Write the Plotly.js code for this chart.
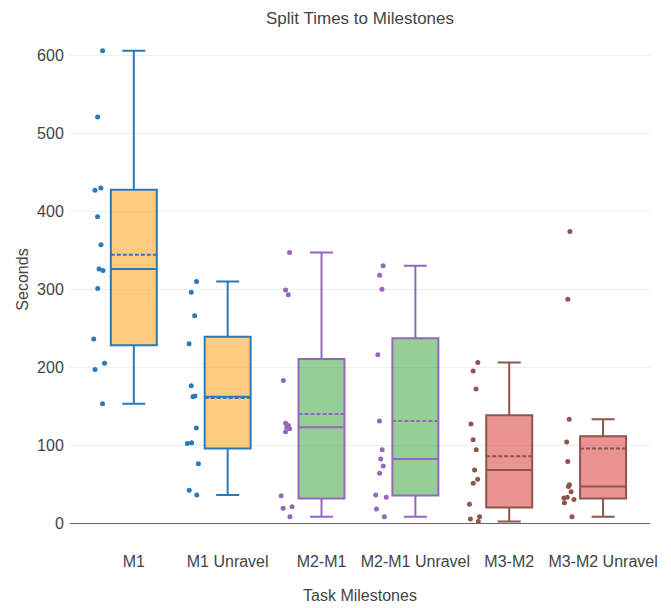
<!DOCTYPE html>
<html>
<head>
<meta charset="utf-8">
<script src="https://cdn.plot.ly/plotly-3.0.1.min.js"></script>
<style>html,body{margin:0;padding:0;background:#fff;}#chart{width:671px;height:608px;}</style>
</head>
<body>
<div id="chart"></div>
<script>
// Categories (task milestones)
const categories = ["M1", "M1 Unravel", "M2-M1", "M2-M1 Unravel", "M3-M2", "M3-M2 Unravel"];

// Split times in seconds
const m1        = [606, 521, 430, 427, 393, 357, 326, 324, 301, 236, 205, 197, 153];
const m1Unravel = [310, 296, 266, 230, 176, 163, 162, 122, 103, 102, 76, 42, 36];
const m2m1      = [347, 299, 293, 183, 128, 125, 123, 121, 117, 35, 21, 19, 8];
const m2m1Unravel = [330, 318, 300, 216, 131, 94, 82, 73, 64, 36, 33, 18, 8];
const m3m2      = [206, 195, 172, 127, 107, 94, 68, 56, 51, 24, 8, 5, 2];
const m3m2Unravel = [374, 287, 133, 104, 79, 49, 47, 40, 33, 32, 30, 26, 8];

const seriesValues = [m1, m1Unravel, m2m1, m2m1Unravel, m3m2, m3m2Unravel];

// Styles (kept separate from data)
const lineColors = ["#2a7ab9", "#2a7ab9", "#9467bd", "#9467bd", "#8c564b", "#8c564b"];
const fillColors = ["rgba(255,153,0,0.5)", "rgba(255,153,0,0.5)",
                    "rgba(44,160,44,0.5)", "rgba(44,160,44,0.5)",
                    "rgba(214,39,40,0.5)", "rgba(214,39,40,0.5)"];

const traces = categories.map((cat, i) => ({
  type: "box",
  name: cat,
  x: seriesValues[i].map(() => cat),
  y: seriesValues[i],
  boxpoints: "all",
  jitter: 0.3,
  pointpos: -1.5,
  boxmean: true,
  fillcolor: fillColors[i],
  line: {color: lineColors[i], width: 2},
  marker: {color: lineColors[i], size: 5},
  showlegend: false
}));

const layout = {
  width: 671,
  height: 608,
  margin: {l: 70, r: 21, t: 36, b: 85},
  paper_bgcolor: "#fff",
  plot_bgcolor: "#fff",
  font: {family: "Liberation Sans, Arial, sans-serif", size: 16, color: "#444"},
  title: {text: "Split Times to Milestones", x: 0.5, xref: "paper",
          y: 0.97, yref: "container", yanchor: "middle",
          font: {size: 17, color: "#444"}},
  boxmode: "overlay",
  xaxis: {
    title: {text: "Task Milestones", font: {size: 16}, standoff: 20},
    automargin: false,
    type: "category",
    categoryorder: "array",
    categoryarray: categories,
    range: [-0.68, 5.5],
    showgrid: false,
    zeroline: false,
    showline: false,
    ticks: "outside",
    ticklen: 24,
    tickcolor: "rgba(0,0,0,0)",
    tickfont: {size: 16}
  },
  yaxis: {
    title: {text: "Seconds", font: {size: 16}},
    range: [0, 625],
    tickvals: [0, 100, 200, 300, 400, 500, 600],
    gridcolor: "#eee",
    zeroline: true,
    zerolinecolor: "#666",
    zerolinewidth: 1,
    ticks: "outside",
    ticklen: 2,
    tickcolor: "rgba(0,0,0,0)",
    tickfont: {size: 16}
  }
};

Plotly.newPlot("chart", traces, layout, {displayModeBar: false, staticPlot: true});
</script>
</body>
</html>
